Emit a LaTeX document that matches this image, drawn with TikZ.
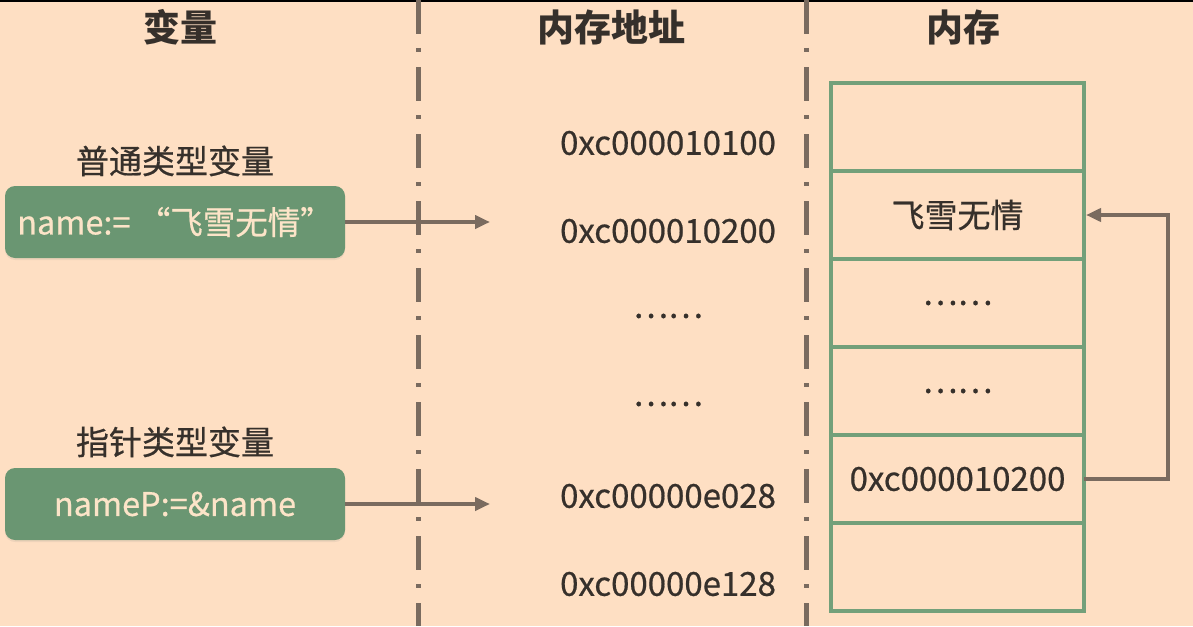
\documentclass[tikz,border=0pt]{standalone}
\usepackage{fontspec}
\setmainfont{Noto Sans CJK SC}[UprightFeatures={FakeBold=0.6}]
\usepackage{tikz}
\usetikzlibrary{arrows.meta, positioning, shadows}
\definecolor{PaperPeach}{HTML}{FEDFC3}
\definecolor{BoxGreen}{HTML}{6A9672}
\definecolor{CellGreen}{HTML}{73A07A}
\definecolor{LineBrown}{HTML}{7A6B5F}
\definecolor{InkDark}{HTML}{36302B}
\definecolor{BoxText}{HTML}{FCE4C8}

\begin{document}
\begin{tikzpicture}[x=1pt, y=-1pt,
    every node/.style={text=InkDark, font=\fontsize{33}{38}\selectfont},
    header/.style={font=\fontsize{37}{42}\selectfont\bfseries},
    varbox/.style={fill=BoxGreen, rounded corners=10pt, minimum width=340pt, minimum height=72pt, text=BoxText,
      font=\fontsize{32.5}{38}\selectfont,
      drop shadow={opacity=0.12, shadow xshift=0pt, shadow yshift=-2pt}},
    cell/.style={draw=CellGreen, line width=4pt, outer sep=0pt, minimum width=253pt, minimum height=88pt},
    divider/.style={draw=LineBrown, line width=5pt, dash pattern=on 34pt off 14pt on 4pt off 15pt},
    link/.style={draw=LineBrown, line width=4pt, -{Triangle[length=15pt, width=13pt]}}]
  \fill[PaperPeach] (0,0) rectangle (1193,626);
  \useasboundingbox (0,0) rectangle (1193,626);
  \draw[black, line width=2pt] (0,1) -- (1193,1);

  % column dividers
  \draw[divider] (418,0) -- (418,626);
  \draw[divider] (806,0) -- (806,626);

  % headers
  \node[header] (hvar) at (180,27) {变量};
  \node[header] (haddr) at (611,27) {内存地址};
  \node[header] (hmem) at (963,27) {内存};

  % variables
  \node[varbox] (var1) at (175,222) {name:= “飞雪无情”};
  \node[above=6pt of var1] (lab1) {普通类型变量};
  \node[varbox] (var2) at (175,504) {nameP:=\&name};
  \node[above=7pt of var2] (lab2) {指针类型变量};

  % addresses
  \node (a1) at (668,143) {0xc000010100};
  \node (a2) at (668,231) {0xc000010200};
  \node (a3) at (668,316) {……};
  \node (a4) at (668,404) {……};
  \node (a5) at (668,496) {0xc00000e028};
  \node (a6) at (668,584) {0xc00000e128};
  \coordinate (in1) at (490,222);
  \coordinate (in2) at (490,504);

  % memory cells
  \node[cell] (m1) at (957.5,127) {};
  \node[cell, below=0pt of m1] (m2) {飞雪无情};
  \node[cell, below=0pt of m2] (m3) {……};
  \node[cell, below=0pt of m3] (m4) {……};
  \node[cell, below=0pt of m4] (m5) {0xc000010200};
  \node[cell, below=0pt of m5] (m6) {};

  % links
  \draw[link] (var1.east) -- (in1);
  \draw[link] (var2.east) -- (in2);
  \draw[link, shorten >=2pt] (m5.east) -- ++(84,0) |- (m2.east);
\end{tikzpicture}
\end{document}
